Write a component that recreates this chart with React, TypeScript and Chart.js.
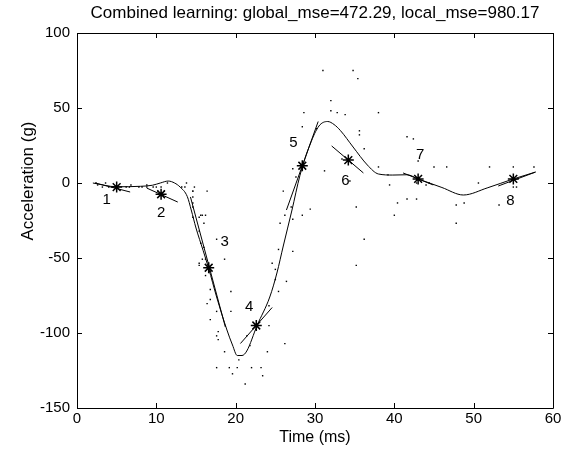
import React, { useEffect, useRef } from "react";
import { Chart, registerables } from "chart.js";

Chart.register(...registerables);

// Measured data: motorcycle impact (time ms, acceleration g)
const sampleTimes = [2.4, 2.6, 3.2, 3.6, 4.0, 6.2, 6.6, 6.8, 7.8, 8.2, 8.8, 8.8, 9.6, 10.0, 10.2, 10.6, 11.0, 11.4, 13.2, 13.6, 13.8, 14.6, 14.6, 14.6, 14.6, 14.6, 14.6, 14.8, 15.4, 15.4, 15.4, 15.4, 15.6, 15.6, 15.8, 15.8, 16.0, 16.0, 16.2, 16.2, 16.2, 16.4, 16.4, 16.6, 16.8, 16.8, 16.8, 17.6, 17.6, 17.6, 17.6, 17.8, 17.8, 18.6, 18.6, 19.2, 19.4, 19.4, 19.6, 20.2, 20.4, 21.2, 21.4, 21.8, 22.0, 23.2, 23.4, 24.0, 24.2, 24.2, 24.6, 25.0, 25.0, 25.4, 25.4, 25.6, 26.0, 26.2, 26.2, 26.4, 27.0, 27.2, 27.2, 27.2, 27.6, 28.2, 28.4, 28.4, 28.6, 29.4, 30.2, 31.0, 31.2, 32.0, 32.0, 32.8, 33.4, 33.8, 34.4, 34.8, 35.2, 35.2, 35.4, 35.6, 35.6, 36.2, 36.2, 38.0, 38.0, 39.2, 39.4, 40.0, 40.4, 41.6, 41.6, 42.4, 42.8, 42.8, 43.0, 44.0, 44.4, 45.0, 46.6, 47.8, 47.8, 48.8, 50.6, 52.0, 53.2, 55.0, 55.0, 55.4, 57.6];
const sampleAccel = [0.0, -1.3, -2.7, 0.0, -2.7, -2.7, -2.7, -1.3, -2.7, -2.7, -1.3, -2.7, -2.7, -2.7, -5.4, -2.7, -5.4, 0.0, -2.7, -2.7, 0.0, -13.3, -5.4, -5.4, -9.3, -16.0, -22.8, -2.7, -22.8, -32.1, -53.5, -54.9, -40.2, -21.5, -21.5, -50.8, -42.9, -26.8, -21.5, -50.8, -61.7, -5.4, -80.4, -59.0, -71.0, -91.1, -77.7, -37.5, -85.6, -123.1, -101.9, -99.1, -104.4, -112.5, -50.8, -123.1, -85.6, -72.3, -127.2, -123.1, -117.9, -134.0, -101.9, -108.4, -123.1, -123.1, -128.5, -112.5, -95.1, -81.8, -53.5, -64.4, -57.6, -72.3, -44.3, -26.8, -5.4, -107.1, -21.5, -65.6, -16.0, -45.6, -24.2, 9.5, 4.0, 12.0, -21.5, 37.5, 46.9, -17.4, 36.2, 75.0, 8.1, 54.9, 48.2, 46.9, 16.0, 45.6, 1.3, 75.0, -16.0, -54.9, 69.6, 34.8, 32.1, -37.5, 22.8, 46.9, 10.7, 5.4, -1.3, -21.5, -13.3, 30.8, -10.7, 29.4, 0.0, -10.7, 14.7, -1.3, 0.0, 10.7, 10.7, -26.8, -14.7, -13.3, 0.0, 10.7, -14.7, -2.7, 10.7, -2.7, 10.7];

// Combined (global) fit curve
const fitTimes = [2.0, 5.0, 8.0, 9.5, 10.5, 11.5, 12.3, 13.0, 13.9, 14.4, 15.0, 15.9, 16.6, 17.6, 18.9, 19.6, 20.2, 20.8, 21.4, 22.7, 24.3, 25.2, 26.0, 27.1, 28.1, 29.4, 30.5, 31.6, 32.4, 33.2, 34.8, 36.6, 38.0, 39.8, 41.6, 43.0, 46.0, 48.7, 51.7, 55.0, 57.8];
const fitAccel = [0.0, -2.5, -2.2, -1.5, 0.0, 1.3, 0.0, -2.7, -9.0, -18.0, -30.0, -45.0, -57.0, -76.0, -98.0, -108.0, -115.0, -115.0, -112.0, -95.0, -76.0, -60.0, -42.0, -18.0, 5.0, 26.0, 38.0, 41.0, 39.0, 35.0, 24.0, 12.0, 6.0, 5.3, 5.5, 2.7, -3.0, -8.0, -3.3, 2.7, 7.3];

// Local models: centres and segment ends
const modelNames = ["1", "2", "3", "4", "5", "6", "7", "8"];
const centerTimes = [5.0, 10.6, 16.6, 22.6, 28.4, 34.2, 43.0, 55.0];
const centerAccel = [-2.7, -7.5, -56.5, -95.0, 11.5, 15.3, 2.7, 2.7];
const segStartTimes = [2.3, 8.8, 14.3, 20.6, 26.4, 32.1, 41.1, 53.1];
const segStartAccel = [0.0, -3.4, -9.3, -107.0, -18.0, 24.7, 6.7, -2.0];
const segEndTimes = [6.7, 12.7, 18.7, 24.6, 30.4, 36.1, 44.9, 57.8];
const segEndAccel = [-6.0, -12.7, -96.0, -83.0, 41.0, 6.7, -1.3, 7.3];

// Axis ticks
const xTicks = [0, 10, 20, 30, 40, 50, 60];
const yTicks = [-150, -100, -50, 0, 50, 100];

const titleText = "Combined learning: global_mse=472.29, local_mse=980.17";
const xLabel = "Time (ms)";
const yLabel = "Acceleration (g)";

// label offsets in pixels relative to centre (style)
const labelOffsets = [[-10, 13], [0, 19], [16, -26], [-7, -19], [-9, -23], [-3, 21], [2, -24], [-3, 22]];

const FONT = "'Liberation Sans', Arial, Helvetica, sans-serif";

const matlabPlugin = {
  id: "matlabAxes",
  afterDraw(chart: any) {
    const { ctx, chartArea } = chart;
    const { left, right, top, bottom } = chartArea;
    const xs = chart.scales.x;
    const ys = chart.scales.y;
    ctx.save();
    ctx.strokeStyle = "#000";
    ctx.lineWidth = 1;
    ctx.beginPath();
    ctx.rect(Math.round(left) + 0.5, Math.round(top) + 0.5, Math.round(right - left), Math.round(bottom - top));
    ctx.stroke();
    const tl = 5;
    ctx.beginPath();
    xTicks.forEach((v) => {
      const px = Math.round(xs.getPixelForValue(v)) + 0.5;
      ctx.moveTo(px, bottom);
      ctx.lineTo(px, bottom - tl);
      ctx.moveTo(px, top);
      ctx.lineTo(px, top + tl);
    });
    yTicks.forEach((v) => {
      const py = Math.round(ys.getPixelForValue(v)) + 0.5;
      ctx.moveTo(left, py);
      ctx.lineTo(left + tl, py);
      ctx.moveTo(right, py);
      ctx.lineTo(right - tl, py);
    });
    ctx.stroke();

    ctx.fillStyle = "#000";
    ctx.textAlign = "center";
    ctx.textBaseline = "middle";
    ctx.font = `15px ${FONT}`;
    modelNames.forEach((n, i) => {
      const px = xs.getPixelForValue(centerTimes[i]) + labelOffsets[i][0];
      const py = ys.getPixelForValue(centerAccel[i]) + labelOffsets[i][1];
      ctx.fillText(n, px, py);
    });

    ctx.font = `17px ${FONT}`;
    ctx.fillText(titleText, (left + right) / 2, 13);
    ctx.font = `16px ${FONT}`;
    ctx.fillText(xLabel, (left + right) / 2, 438);
    ctx.translate(28, ys.getPixelForValue(0) - 2);
    ctx.rotate(-Math.PI / 2);
    ctx.font = `17px ${FONT}`;
    ctx.fillText(yLabel, 0, 0);
    ctx.restore();
  },
};

export default function App() {
  const ref = useRef<HTMLCanvasElement | null>(null);
  useEffect(() => {
    if (!ref.current) return;
    const scatter = sampleTimes.map((t, i) => ({ x: t, y: sampleAccel[i] }));
    const fit = fitTimes.map((t, i) => ({ x: t, y: fitAccel[i] }));
    const segDatasets = modelNames.map((n, i) => ({
      type: "line" as const,
      label: "model " + n,
      data: [
        { x: segStartTimes[i], y: segStartAccel[i] },
        { x: segEndTimes[i], y: segEndAccel[i] },
      ],
      borderColor: "#000",
      borderWidth: 1,
      pointRadius: 0,
      showLine: true,
      fill: false,
    }));
    const chart = new Chart(ref.current, {
      type: "scatter",
      data: {
        datasets: [
          {
            label: "data",
            data: scatter,
            pointRadius: 1,
            pointBorderWidth: 0,
            backgroundColor: "#000",
            borderColor: "#000",
            pointStyle: "rect",
          },
          {
            type: "line",
            label: "fit",
            data: fit,
            borderColor: "#000",
            borderWidth: 1,
            pointRadius: 0,
            tension: 0.3,
            cubicInterpolationMode: "monotone",
            fill: false,
          } as any,
          ...segDatasets,
          {
            label: "centres",
            data: centerTimes.map((t, i) => ({ x: t, y: centerAccel[i] })),
            pointStyle: "star",
            pointRadius: 5.5,
            borderColor: "#000",
            borderWidth: 1.5,
            backgroundColor: "#000",
          },
        ],
      },
      options: {
        animation: false,
        responsive: true,
        maintainAspectRatio: false,
        layout: { padding: { left: 0, right: 16, top: 33, bottom: 0 } },
        plugins: { legend: { display: false }, tooltip: { enabled: false }, title: { display: false } },
        scales: {
          x: {
            type: "linear",
            min: 0,
            max: 60,
            grid: { display: false, drawTicks: false },
            border: { display: false },
            afterBuildTicks: (s: any) => {
              s.ticks = xTicks.map((v) => ({ value: v }));
            },
            afterFit: (s: any) => {
              s.height = 47;
            },
            ticks: { color: "#000", font: { family: FONT, size: 15 }, padding: 2, maxRotation: 0 },
          },
          y: {
            type: "linear",
            min: -150,
            max: 100,
            grid: { display: false, drawTicks: false },
            border: { display: false },
            afterBuildTicks: (s: any) => {
              s.ticks = yTicks.map((v) => ({ value: v }));
            },
            afterFit: (s: any) => {
              s.width = 77;
            },
            ticks: { color: "#000", font: { family: FONT, size: 15 }, padding: 7 },
          },
        },
      },
      plugins: [matlabPlugin],
    } as any);
    return () => chart.destroy();
  }, []);
  return (
    <div style={{ position: "fixed", left: 0, top: 0, width: 569, height: 455, background: "#fff" }}>
      <canvas ref={ref} />
    </div>
  );
}
